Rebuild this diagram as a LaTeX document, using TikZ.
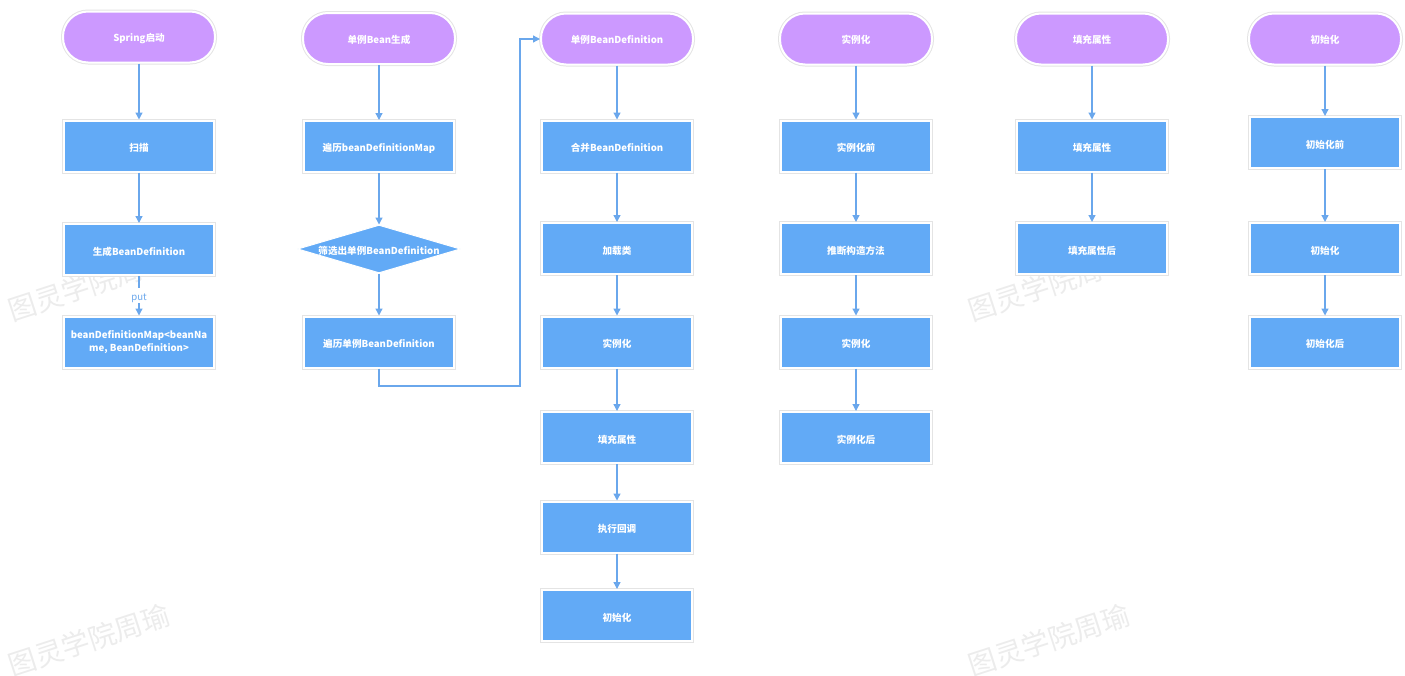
\documentclass[tikz,border=0pt]{standalone}
\usepackage{fontspec}
\setmainfont{Noto Sans CJK SC}
\usetikzlibrary{shapes.geometric,arrows.meta}
\definecolor{boxblue}{HTML}{62AAF6}
\definecolor{pill}{HTML}{CC99FF}
\definecolor{arrowc}{HTML}{6AA7EC}
\definecolor{rim}{HTML}{E4E4E4}
\definecolor{wm}{HTML}{ECECEC}
\begin{document}
\begin{tikzpicture}[x=1pt,y=-1pt,
  txt/.style={text=white,font=\bfseries\fontsize{9.6}{13}\selectfont},
  low/.style={execute at begin node={\rule{0pt}{12.4pt}}},
  stepbox/.style={txt,low,rectangle,fill=boxblue,draw=white,line width=2pt,
    preaction={draw=rim,line width=4pt},minimum width=150pt,minimum height=51pt,
    inner sep=0pt,align=center},
  term/.style={txt,rectangle,rounded corners=25pt,fill=pill,draw=white,line width=2pt,
    preaction={draw=rim,line width=4pt},minimum width=152pt,minimum height=51pt,inner sep=0pt,
    execute at begin node={\rule{0pt}{10.8pt}}},
  dia/.style={diamond,fill=boxblue,draw=white,line width=1pt,minimum width=163pt,
    minimum height=48pt,inner sep=0pt},
  arr/.style={draw=arrowc,line width=1.3pt,-{Triangle[length=7pt,width=7pt]}},
  wmark/.style={text=wm,rotate=18,font=\fontsize{28}{28}\selectfont},
  lbl/.style={fill=white,text=arrowc,inner sep=1pt,font=\fontsize{9.6}{10}\selectfont,
    execute at begin node={\rule{0pt}{11pt}}}
]
\useasboundingbox (0,0) rectangle (1405,675);
% watermarks
\node[wmark] (w1) at (89,285) {图灵学院周瑜};
\node[wmark] (w2) at (89,640) {图灵学院周瑜};
\node[wmark] (w3) at (1049,285) {图灵学院周瑜};
\node[wmark] (w4) at (1049,640) {图灵学院周瑜};
% column 1
\node[term] (t1) at (139,37) {Spring启动};
\node[stepbox] (b1) at (139,146) {扫描};
\node[stepbox] (b2) at (139,249.5) {生成BeanDefinition};
\node[stepbox] (b3) at (139,342) {beanDefinitionMap<beanNa\\me, BeanDefinition>};
% column 2
\node[term] (t2) at (379,38.5) {单例Bean生成};
\node[stepbox] (b4) at (379,146.5) {遍历beanDefinitionMap};
\node[dia,label={[txt,low]center:筛选出单例BeanDefinition}] (d) at (379,249) {};
\node[stepbox] (b5) at (379,342) {遍历单例BeanDefinition};
% column 3
\node[term] (t3) at (617,39) {单例BeanDefinition};
\node[stepbox] (c1) at (617,146) {合并BeanDefinition};
\node[stepbox] (c2) at (617,248.5) {加载类};
\node[stepbox] (c3) at (617,342) {实例化};
\node[stepbox] (c4) at (617,437.5) {填充属性};
\node[stepbox] (c5) at (617,527) {执行回调};
\node[stepbox] (c6) at (617,615.5) {初始化};
% column 4
\node[term] (t4) at (856,39) {实例化};
\node[stepbox] (e1) at (856,146) {实例化前};
\node[stepbox] (e2) at (856,248.5) {推断构造方法};
\node[stepbox] (e3) at (856,342) {实例化};
\node[stepbox] (e4) at (856,437.5) {实例化后};
% column 5
\node[term] (t5) at (1092,39) {填充属性};
\node[stepbox] (f1) at (1092,146) {填充属性};
\node[stepbox] (f2) at (1092,248.5) {填充属性后};
% column 6
\node[term] (t6) at (1325,39) {初始化};
\node[stepbox] (g1) at (1325,142.5) {初始化前};
\node[stepbox] (g2) at (1325,248.5) {初始化};
\node[stepbox] (g3) at (1325,342) {初始化后};
% connectors
\draw[arr] (t1) -- (b1);
\draw[arr] (b1) -- (b2);
\draw[arr] (b2) -- node[lbl] (put) {put} (b3);
\draw[arr] (t2) -- (b4);
\draw[arr] (b4) -- (d);
\draw[arr] (d) -- (b5);
\coordinate (k) at (520,386);
\draw[arr] (b5.south) |- (k) |- (t3.west);
\draw[arr] (t3) -- (c1);
\draw[arr] (c1) -- (c2);
\draw[arr] (c2) -- (c3);
\draw[arr] (c3) -- (c4);
\draw[arr] (c4) -- (c5);
\draw[arr] (c5) -- (c6);
\draw[arr] (t4) -- (e1);
\draw[arr] (e1) -- (e2);
\draw[arr] (e2) -- (e3);
\draw[arr] (e3) -- (e4);
\draw[arr] (t5) -- (f1);
\draw[arr] (f1) -- (f2);
\draw[arr] (t6) -- (g1);
\draw[arr] (g1) -- (g2);
\draw[arr] (g2) -- (g3);
\end{tikzpicture}
\end{document}
